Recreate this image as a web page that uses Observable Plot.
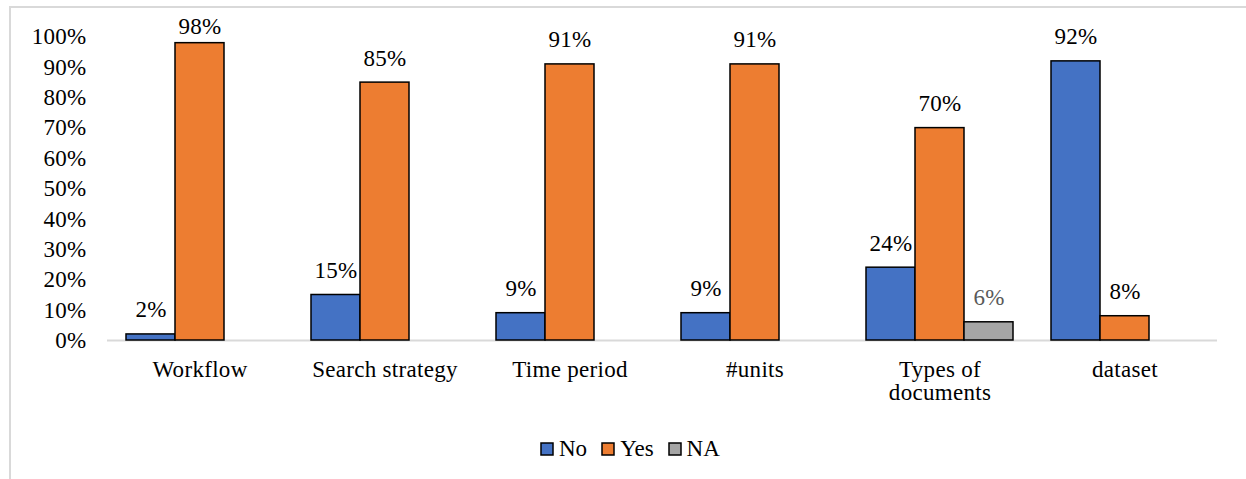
<!DOCTYPE html>
<html>
<head>
<meta charset="utf-8">
<script src="https://cdn.jsdelivr.net/npm/d3@7"></script>
<script src="https://cdn.jsdelivr.net/npm/@observablehq/plot@0.6"></script>
<style>
  html, body { margin: 0; padding: 0; background: #fff; overflow: hidden; }
  #page { position: relative; width: 1246px; height: 479px; }
  #frame {
    position: absolute; left: 9px; top: 6px; width: 1300px; height: 600px;
    border: 2px solid #d9d9d9; box-sizing: border-box;
  }
  #chart { position: absolute; left: 0; top: 0; }
  #chart svg, #chart svg text {
    font-family: "Liberation Serif", "Times New Roman", Tinos, serif !important;
    letter-spacing: 0.3px;
  }
  #legend { position: absolute; left: 541px; top: 432px; }
  #legend, #legend * {
    font-family: "Liberation Serif", "Times New Roman", Tinos, serif !important;
  }
  .lg-swatches { font-size: 23px !important; color: #000; }
  .lg-swatch { margin-right: 15px !important; }
  .lg-swatch > svg { margin-right: 6px !important; overflow: visible; }
  .lg-swatch > svg rect { stroke: #000; stroke-width: 1.5px; }
</style>
</head>
<body>
<div id="page">
  <div id="frame"></div>
  <div id="chart"></div>
  <div id="legend"></div>
</div>
<script>
// Share of reviewed studies reporting each item
const categories = ["Workflow", "Search strategy", "Time period", "#units", "Types of documents", "dataset"];
const series = ["No", "Yes", "NA"];
const noValues  = [2, 15, 9, 9, 24, 92];
const yesValues = [98, 85, 91, 91, 70, 8];
const naValues  = [null, null, null, null, 6, null];
const colors = ["#4472c4", "#ed7d31", "#a5a5a5"];
const yTicks = [0, 10, 20, 30, 40, 50, 60, 70, 80, 90, 100];

const valuesBySeries = {No: noValues, Yes: yesValues, NA: naValues};
const rows = series.flatMap(s =>
  categories.map((c, i) => ({category: c, series: s, value: valuesBySeries[s][i]}))
).filter(d => d.value != null);

const wrapLabel = c => c === "Types of documents" ? "Types of\ndocuments" : c;

// value labels sit above their bars but are kept inside the chart area
const labelCeiling = 95.5;

const chart = Plot.plot({
  width: 1246,
  height: 420,
  marginLeft: 104,
  marginRight: 27,
  marginTop: 36.6,
  marginBottom: 80,
  style: {fontSize: "23px", color: "#000", background: "transparent"},
  fx: {
    domain: categories, paddingInner: 0, paddingOuter: 0,
    axis: "bottom", label: null, tickSize: 0, tickPadding: 20, tickFormat: wrapLabel
  },
  x: {domain: series, axis: null, paddingInner: 0, paddingOuter: 0.37},
  y: {domain: [0, 100], ticks: yTicks, tickFormat: d => d + "%", tickSize: 0, tickPadding: 21, label: null},
  color: {domain: series, range: colors},
  marks: [
    Plot.ruleY([0], {stroke: "#d9d9d9", strokeWidth: 2}),
    Plot.barY(rows, {fx: "category", x: "series", y: "value", fill: "series", stroke: "#000", strokeWidth: 1.5}),
    Plot.text(rows, {
      fx: "category", x: "series",
      y: d => Math.min(d.value, labelCeiling),
      text: d => d.value + "%",
      lineAnchor: "bottom", dy: -17,
      fill: d => d.series === "NA" ? "#595959" : "#000"
    })
  ]
});
document.getElementById("chart").appendChild(chart);

const legend = Plot.legend({
  color: {domain: series, range: colors},
  legend: "swatches",
  swatchSize: 12,
  className: "lg"
});
document.getElementById("legend").appendChild(legend);
</script>
</body>
</html>
